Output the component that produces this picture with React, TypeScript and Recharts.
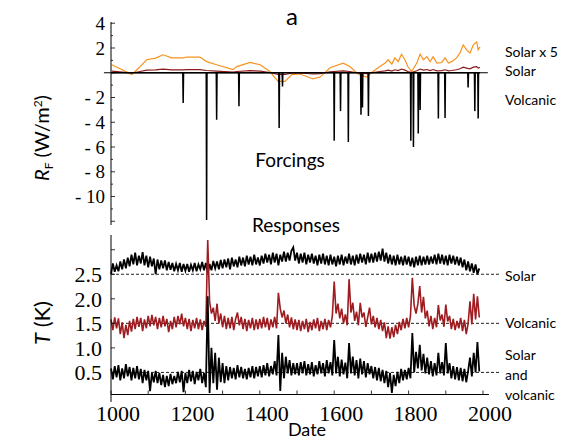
import { Line, LineChart, ReferenceLine, XAxis, YAxis } from "recharts"

// forcings (W/m2): orange "Solar x 5" curve
const solarYears = [
  1002, 1030, 1056, 1075, 1096, 1120, 1140, 1163, 1194, 1203, 1239, 1257, 1284, 1328, 1338, 1374, 1401,
  1427, 1449, 1468, 1486, 1508, 1543, 1562, 1589, 1624, 1642, 1664, 1687, 1704, 1723, 1737, 1745, 1755,
  1763, 1772, 1781, 1790, 1798, 1808, 1822, 1831, 1840, 1849, 1858, 1866, 1876, 1889, 1898, 1907, 1916,
  1929, 1938, 1947, 1956, 1965, 1974, 1983, 1987, 1992,
]
const solarX5 = [
  0.65, 0.24, -0.15, 0.4, 1.05, 1.18, 1.45, 1.2, 1.2, 1.27, 1.27, 0.9, 0.65, 0.25, 0.5, 0.83, 0.65,
  0.1, -0.7, -0.7, -0.15, -0.1, -0.5, -0.35, 0.4, 0.78, 0.5, -0.1, -0.35, 0.1, 0.5, 0.78, 1.05, 0.7,
  1.2, 0.9, 1.5, 1.05, 0.5, 0.1, 0.78, 1.5, 1.05, 1.3, 0.9, 1.3, 0.78, 0.83, 1.2, 0.78, 0.9,
  1.2, 1.6, 2.25, 1.85, 1.6, 2.25, 2.5, 1.85, 2.1,
]

// volcanic forcing pulses
const eruptionYears = [
  1194, 1257, 1284, 1344, 1452, 1461, 1600, 1617, 1638, 1672, 1676, 1692, 1806, 1813, 1826, 1831, 1880,
  1898, 1960, 1978, 1987,
]
const eruptionForcing = [
  -2.45, -11.9, -3.8, -2.7, -4.46, -1.1, -5.5, -3.1, -5.6, -3.4, -2.8, -3.5, -5.5, -6.0, -4.9, -3.0, -3.7,
  -3.65, -1.2, -3.1, -3.7,
]

// responses (K), one value every 5 years from 1000 to 1990
const responseYears = Array.from({ length: 199 }, (_, i) => 1000 + i * 5)
const solarResponse = [
  2.5, 2.72, 2.55, 2.68, 2.56, 2.76, 2.6, 2.8, 2.62, 2.84,
  2.66, 2.9, 2.7, 2.94, 2.68, 2.88, 2.72, 2.95, 2.68, 2.88,
  2.64, 2.86, 2.66, 2.82, 2.5, 2.8, 2.6, 2.78, 2.62, 2.78,
  2.58, 2.75, 2.59, 2.73, 2.56, 2.71, 2.58, 2.73, 2.55, 2.71,
  2.57, 2.71, 2.55, 2.69, 2.58, 2.73, 2.56, 2.7, 2.6, 2.75,
  2.58, 2.73, 2.52, 2.71, 2.58, 2.77, 2.62, 2.76, 2.6, 2.79,
  2.62, 2.8, 2.64, 2.82, 2.6, 2.84, 2.66, 2.8, 2.64, 2.86,
  2.68, 2.84, 2.66, 2.88, 2.7, 2.86, 2.68, 2.9, 2.7, 2.84,
  2.68, 2.88, 2.72, 2.92, 2.74, 2.9, 2.7, 2.94, 2.74, 2.92,
  2.68, 2.9, 2.76, 2.96, 2.76, 2.94, 2.78, 2.98, 3.05, 2.78,
  2.94, 2.72, 2.92, 2.74, 2.94, 2.7, 2.9, 2.74, 2.92, 2.72,
  2.88, 2.68, 2.9, 2.72, 2.92, 2.7, 2.88, 2.68, 2.9, 2.7,
  2.86, 2.66, 2.88, 2.7, 2.9, 2.68, 2.86, 2.72, 2.92, 2.7,
  2.88, 2.68, 2.9, 2.72, 2.92, 2.74, 2.9, 2.7, 2.94, 2.74,
  2.92, 2.74, 2.94, 2.76, 2.96, 2.78, 3.02, 2.76, 2.94, 2.72,
  2.9, 2.7, 2.88, 2.68, 2.9, 2.7, 2.86, 2.68, 2.88, 2.7,
  2.86, 2.66, 2.84, 2.64, 2.86, 2.68, 2.88, 2.68, 2.86, 2.7,
  2.88, 2.7, 2.86, 2.72, 2.9, 2.7, 2.92, 2.72, 2.9, 2.7,
  2.88, 2.68, 2.9, 2.72, 2.88, 2.7, 2.86, 2.68, 2.84, 2.64,
  2.8, 2.58, 2.76, 2.56, 2.72, 2.53, 2.7, 2.5, 2.62,
]
const volcanicResponse = [
  1.58, 1.36, 1.62, 1.4, 1.6, 1.28, 1.52, 1.2, 1.47, 1.26,
  1.55, 1.33, 1.59, 1.38, 1.63, 1.43, 1.61, 1.34, 1.58, 1.4,
  1.65, 1.44, 1.67, 1.46, 1.63, 1.38, 1.61, 1.42, 1.65, 1.44,
  1.59, 1.32, 1.55, 1.38, 1.63, 1.42, 1.65, 1.48, 1.7, 1.44,
  1.61, 1.38, 1.59, 1.34, 1.57, 1.4, 1.61, 1.38, 1.58, 1.36,
  1.55, 1.43, 3.2, 1.95, 1.7, 1.82, 1.55, 1.9, 1.5, 1.7,
  1.42, 1.65, 1.38, 1.61, 1.4, 1.63, 1.36, 1.59, 1.72, 1.46,
  1.63, 1.38, 1.59, 1.34, 1.57, 1.4, 1.61, 1.36, 1.58, 1.38,
  1.59, 1.4, 1.63, 1.42, 1.61, 1.36, 1.58, 1.42, 1.63, 1.4,
  2.12, 1.8, 1.62, 1.76, 1.5, 1.68, 1.42, 1.62, 1.38, 1.58,
  1.36, 1.57, 1.34, 1.55, 1.38, 1.59, 1.32, 1.53, 1.36, 1.58,
  1.4, 1.61, 1.34, 1.55, 1.38, 1.59, 1.36, 1.57, 1.42, 1.65,
  2.35, 1.7, 1.9, 1.6, 1.8, 1.5, 1.68, 1.46, 2.4, 1.72,
  1.92, 1.55, 1.74, 1.46, 1.92, 1.62, 1.72, 1.43, 1.62, 1.82,
  1.48, 1.65, 1.42, 1.61, 1.38, 1.57, 1.34, 1.52, 1.2, 1.44,
  1.19, 1.42, 1.22, 1.47, 1.28, 1.53, 1.36, 1.59, 1.4, 1.61,
  1.42, 1.65, 2.43, 1.86, 1.7, 1.9, 2.26, 1.72, 2.04, 1.6,
  1.76, 1.44, 1.65, 1.38, 1.61, 1.42, 1.87, 1.56, 1.68, 1.43,
  1.88, 1.54, 1.65, 1.38, 1.59, 1.36, 1.55, 1.4, 1.61, 1.34,
  1.57, 1.28, 1.5, 1.95, 1.48, 2.1, 1.58, 2.05, 1.62,
]
const combinedResponse = [
  0.58, 0.36, 0.63, 0.4, 0.65, 0.34, 0.58, 0.38, 0.67, 0.42,
  0.61, 0.34, 0.59, 0.38, 0.63, 0.36, 0.57, 0.28, 0.55, 0.34,
  0.53, 0.12, 0.49, 0.3, 0.53, 0.28, 0.49, 0.24, 0.45, 0.2,
  0.43, 0.22, 0.47, 0.26, 0.43, 0.28, 0.51, 0.3, 0.53, 0.1,
  0.49, 0.28, 0.55, 0.32, 0.53, 0.26, 0.51, 0.34, 0.57, 0.28,
  0.49, 0.2, 2.05, 0.08, 1.0, 0.28, 0.9, 0.15, 0.8, 0.3,
  0.69, 0.28, 0.63, 0.34, 0.61, 0.38, 0.59, 0.36, 0.65, 0.4,
  0.61, 0.38, 0.57, 0.36, 0.59, 0.4, 0.63, 0.38, 0.61, 0.42,
  0.63, 0.4, 0.65, 0.44, 0.69, 0.42, 0.63, 0.46, 0.73, 0.44,
  1.26, 0.12, 0.9, 0.38, 0.82, 0.48, 0.75, 0.44, 0.69, 0.46,
  0.69, 0.44, 0.71, 0.48, 0.73, 0.44, 0.67, 0.46, 0.71, 0.42,
  0.65, 0.46, 0.73, 0.48, 0.69, 0.42, 0.75, 0.48, 0.71, 0.44,
  1.16, 0.48, 0.82, 0.42, 0.76, 0.46, 0.7, 0.38, 1.1, 0.48,
  0.82, 0.44, 0.75, 0.38, 0.78, 0.46, 0.73, 0.4, 0.69, 0.46,
  0.63, 0.38, 0.61, 0.34, 0.59, 0.32, 0.55, 0.28, 0.53, 0.2,
  0.49, 0.08, 0.45, 0.22, 0.51, 0.28, 0.57, 0.34, 0.55, 0.36,
  0.59, 0.38, 1.3, 0.5, 0.92, 0.58, 1.06, 0.54, 0.88, 0.48,
  0.8, 0.46, 0.73, 0.42, 0.69, 0.44, 0.9, 0.48, 0.71, 0.44,
  1.1, 0.48, 0.69, 0.38, 0.63, 0.36, 0.61, 0.34, 0.59, 0.32,
  0.57, 0.3, 0.53, 0.8, 0.42, 0.9, 0.5, 1.12, 0.52,
]

const xTicks = [1000, 1100, 1200, 1300, 1400, 1500, 1600, 1700, 1800, 1900, 2000]
const forcingTicks = [4, 3, 2, 1, 0, -1, -2, -3, -4, -5, -6, -7, -8, -9, -10, -11, -12]
const forcingLabels = [4, 2, -2, -4, -6, -8, -10]
const responseTicks = [0.5, 1.0, 1.5, 2.0, 2.5, 3.0]
const responseLabels = [0.5, 1.0, 1.5, 2.0, 2.5]

const SERIF = "'Liberation Serif', 'DejaVu Serif', serif"
const SANS = "Lato, 'Open Sans', sans-serif"

type Row = { year: number; [k: string]: number }

function buildForcing(): Row[] {
  const rows = new Map<number, Row>()
  const put = (year: number, key: string, v: number) => {
    const r = rows.get(year) ?? { year }
    r[key] = v
    rows.set(year, r)
  }
  solarYears.forEach((y, i) => {
    put(y, "solarX5", solarX5[i])
    put(y, "solar", solarX5[i] / 5)
  })
  put(1000, "volcanic", 0)
  put(1992, "volcanic", 0)
  eruptionYears.forEach((y, i) => {
    put(y - 1, "volcanic", 0)
    put(y, "volcanic", eruptionForcing[i])
    put(y + 1, "volcanic", 0)
  })
  return [...rows.values()].sort((a, b) => a.year - b.year)
}

const responseRows = responseYears.map((year, i) => ({
  year,
  solar: solarResponse[i],
  volcanic: volcanicResponse[i],
  combined: combinedResponse[i],
}))

function XTick(props: any) {
  const { x, y, payload } = props
  const v = payload.value
  return (
    <g>
      <line x1={x} x2={x} y1={y} y2={y - 4} stroke="#000" strokeWidth={0.8} />
      {v % 200 === 0 && (
        <text x={x + 7} y={y + 26} textAnchor="middle" fontFamily={SERIF} fontSize={22} fill="#000">
          {v}
        </text>
      )}
    </g>
  )
}

function ForcingTick(props: any) {
  const { x, y, payload } = props
  const v = payload.value
  const major = v % 2 === 0
  return (
    <g>
      <line x1={x} x2={x + (major ? 4 : 2)} y1={y} y2={y} stroke="#000" strokeWidth={0.8} />
      {forcingLabels.includes(v) && (
        <text x={x - 6} y={y} dy="0.35em" textAnchor="end" fontFamily={SERIF} fontSize={19} fill="#000">
          {v < 0 ? `- ${-v}` : v}
        </text>
      )}
    </g>
  )
}

function ResponseTick(props: any) {
  const { x, y, payload } = props
  const v = payload.value
  return (
    <g>
      <line x1={x} x2={x + 4} y1={y} y2={y} stroke="#000" strokeWidth={0.8} />
      {responseLabels.includes(v) && (
        <text x={x - 9} y={y} dy="0.35em" textAnchor="end" fontFamily={SERIF} fontSize={22} fill="#000">
          {v.toFixed(1)}
        </text>
      )}
    </g>
  )
}

export default function App() {
  const forcingRows = buildForcing()
  const abs = { position: "absolute" as const, left: 0, top: 0 }
  const legend = { fontFamily: SANS, fontSize: 14, fill: "#000" }

  return (
    <div style={{ ...abs, width: 561, height: 439, background: "#fff" }}>
      <div style={abs}>
        <LineChart width={561} height={439} data={responseRows} margin={{ top: 235, right: 78, bottom: 4.5, left: 71 }}>
          <XAxis
            dataKey="year"
            type="number"
            domain={[1000, 2000]}
            ticks={xTicks}
            interval={0}
            height={40}
            tickSize={0}
            tickMargin={0}
            axisLine={false}
            tick={(p: any) => <XTick {...p} />}
          />
          <YAxis
            type="number"
            domain={[0.05, 3.3]}
            ticks={responseTicks}
            interval={0}
            width={40}
            tickSize={0}
            tickMargin={0}
            allowDataOverflow
            axisLine={{ stroke: "#000" }}
            tick={(p: any) => <ResponseTick {...p} />}
          />
          {[2.5, 1.5, 0.5].map((v) => (
            <ReferenceLine
              key={v}
              segment={[{ x: 1000, y: v }, { x: 2045, y: v }]}
              stroke="#222"
              strokeDasharray="3 2"
              ifOverflow="visible"
            />
          ))}
          <ReferenceLine segment={[{ x: 1000, y: 0.05 }, { x: 2016, y: 0.05 }]} stroke="#000" ifOverflow="visible" />
          <ReferenceLine segment={[{ x: 1000, y: -0.1 }, { x: 1000, y: 0.05 }]} stroke="#000" ifOverflow="visible" />
          <Line dataKey="solar" stroke="#000" strokeWidth={1.8} strokeLinejoin="miter" dot={false} isAnimationActive={false} />
          <Line dataKey="volcanic" stroke="#9E1B20" strokeWidth={1.6} strokeLinejoin="miter" dot={false} isAnimationActive={false} />
          <Line dataKey="combined" stroke="#000" strokeWidth={1.8} strokeLinejoin="miter" dot={false} isAnimationActive={false} />
        </LineChart>
      </div>

      <div style={abs}>
        <LineChart width={561} height={439} data={forcingRows} margin={{ top: 22, right: 78, bottom: 214, left: 71 }}>
          <XAxis dataKey="year" type="number" domain={[1000, 2000]} hide />
          <YAxis
            type="number"
            domain={[-12.3, 4.1]}
            ticks={forcingTicks}
            interval={0}
            width={40}
            tickSize={0}
            tickMargin={0}
            allowDataOverflow
            axisLine={{ stroke: "#000" }}
            tick={(p: any) => <ForcingTick {...p} />}
          />
          <ReferenceLine segment={[{ x: 981, y: 0 }, { x: 2013, y: 0 }]} stroke="#000" ifOverflow="visible" />
          <Line dataKey="solarX5" stroke="#F7931E" strokeWidth={1.2} dot={false} connectNulls isAnimationActive={false} />
          <Line dataKey="solar" stroke="#8B1A1A" strokeWidth={1.2} dot={false} connectNulls isAnimationActive={false} />
          <Line dataKey="volcanic" stroke="#000" strokeWidth={1.5} dot={false} connectNulls isAnimationActive={false} />
        </LineChart>
      </div>

      <svg width={561} height={439} style={{ ...abs, pointerEvents: "none" }}>
        <text x={292} y={25} textAnchor="middle" fontFamily={SANS} fontSize={24} fill="#000">a</text>
        <text x={290} y={167} textAnchor="middle" fontFamily={SANS} fontSize={19} fill="#000">Forcings</text>
        <text x={296} y={232} textAnchor="middle" fontFamily={SANS} fontSize={19} fill="#000">Responses</text>
        <text x={307} y={436} textAnchor="middle" fontFamily={SANS} fontSize={18} fill="#000">Date</text>

        <text x={505} y={57} {...legend}>Solar x 5</text>
        <text x={505} y={76} {...legend}>Solar</text>
        <text x={505} y={105} {...legend}>Volcanic</text>
        <text x={505} y={281} {...legend}>Solar</text>
        <text x={505} y={328} {...legend}>Volcanic</text>
        <text x={505} y={360} {...legend}>Solar</text>
        <text x={505} y={380} {...legend}>and</text>
        <text x={505} y={400} {...legend}>volcanic</text>

        <text transform="rotate(-90 49 138)" x={49} y={138} textAnchor="middle" fontFamily={SANS} fontSize={20} fill="#000">
          <tspan fontStyle="italic">R</tspan>
          <tspan fontSize={12} dy={4}>F</tspan>
          <tspan dy={-4}> (W/m</tspan>
          <tspan fontSize={12} dy={-7}>2</tspan>
          <tspan dy={7}>)</tspan>
        </text>
        <text transform="rotate(-90 50 323)" x={50} y={323} textAnchor="middle" fontFamily={SANS} fontSize={22} fill="#000">
          <tspan fontStyle="italic">T</tspan> (K)
        </text>
      </svg>
    </div>
  )
}
